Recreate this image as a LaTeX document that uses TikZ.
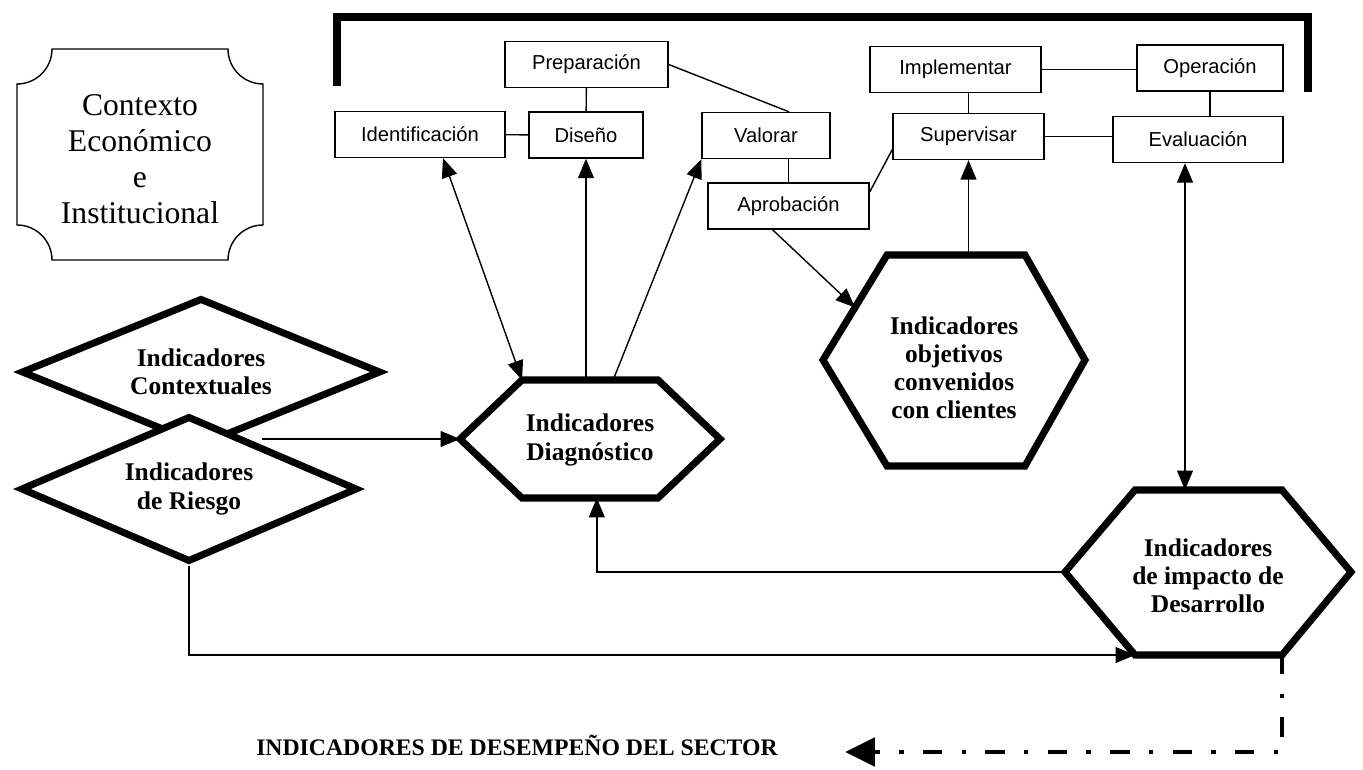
\documentclass[tikz,border=0pt]{standalone}
\usepackage{fontspec}
\setmainfont{Liberation Serif}
\setsansfont{Liberation Sans}
\usepackage{tikz}
\usetikzlibrary{arrows.meta, shapes.geometric, positioning, calc}

\begin{document}
\begin{tikzpicture}[x=0.02cm, y=-0.02cm,
    heavyline/.style={line width=4pt, line join=miter},
    conn/.style={line width=0.8pt},
    arr/.style={conn, -{Triangle[length=11pt, width=9pt]}},
    darr/.style={conn, {Triangle[length=11pt, width=9pt]}-{Triangle[length=11pt, width=9pt]}},
    stage/.style={draw, line width=0.8pt, minimum height=0.92cm, inner sep=0pt,
        font=\sffamily\fontsize{11.5}{13}\selectfont},
    ind/.style={align=center, font=\bfseries\fontsize{14.5}{16}\selectfont},
    rombo/.style={diamond, draw, heavyline, fill=white, inner sep=0pt, aspect=2.4, ind}]
    \useasboundingbox (0,0) rectangle (1363,770);

    % --- Contexto ---
    \draw[line width=0.8pt] (52,49) -- (228,49) arc[start angle=180, end angle=270, radius=0.7cm]
        -- (263,225) arc[start angle=90, end angle=180, radius=0.7cm]
        -- (52,260) arc[start angle=0, end angle=90, radius=0.7cm]
        -- (17,84) arc[start angle=270, end angle=360, radius=0.7cm] -- cycle;
    \node[align=center, font=\fontsize{18}{20.5}\selectfont] (ctx) at (140,159)
        {Contexto\\Económico\\e\\Institucional};

    % --- ciclo del proyecto ---
    \draw[heavyline] (337,86) -- (337,17) -- (1308,17) -- (1308,92);
    \node[stage, minimum width=3.4cm]  (iden) at (420,134.5) {Identificación};
    \node[stage, minimum width=2.28cm] (dise) at (586,135)   {Diseño};
    \node[stage, minimum width=3.26cm] (prep) at (586.5,64.5) {Preparación};
    \node[stage, minimum width=2.56cm] (valo) at (766,135.5) {Valorar};
    \node[stage, minimum width=3.22cm] (apro) at (788.5,206) {Aprobación};
    \node[stage, minimum width=3.42cm] (impl) at (955.5,69.5) {Implementar};
    \node[stage, minimum width=3.02cm] (supe) at (968.5,136.5) {Supervisar};
    \node[stage, minimum width=2.92cm] (oper) at (1210,68)   {Operación};
    \node[stage, minimum width=3.4cm]  (eval) at (1198,139.5) {Evaluación};

    \draw[conn] (iden) -- (dise);
    \draw[conn] (prep) -- (dise);
    \draw[conn] (prep.east) -- ($(valo.north)+(23,0)$);
    \draw[conn] (valo.south -| apro.north) -- (apro.north);
    \draw[conn] ($(apro.east)+(0,-14)$) -- ($(supe.west)+(0,13)$);
    \draw[conn] (impl.south -| supe.north) -- (supe.north);
    \draw[conn] (impl.east) -- (impl.east -| oper.west);
    \draw[conn] (oper.south) -- (oper.south |- eval.north);
    \draw[conn] (supe.east) -- (supe.east -| eval.west);

    % --- indicadores ---
    \node[rombo, minimum width=7.2cm, minimum height=2.96cm] (cont) at (201,372) {Indicadores\\Contextuales};
    \node[rombo, minimum width=6.74cm, minimum height=2.92cm] (ries) at (189,489) {Indicadores\\de Riesgo};

    \draw[heavyline] (460,439) coordinate (diag-w) -- (522,380) coordinate (diag-nw)
        -- (658,380) coordinate (diag-ne) -- (720,439) -- (658,498) coordinate (diag-se)
        -- (522,498) coordinate (diag-sw) -- cycle;
    \node[ind] (diag) at (590,440) {Indicadores\\Diagnóstico};

    \draw[heavyline] (823,360) coordinate (obj-w) -- (887,255) coordinate (obj-nw)
        -- (1025,255) -- (1085,360) -- (1025,466) -- (887,466) -- cycle;
    \node[ind] (obj) at (954,368) {Indicadores\\objetivos\\convenidos\\con clientes};

    \draw[heavyline] (1065,572) coordinate (imp-w) -- (1135,490) coordinate (imp-nw)
        -- (1282,490) -- (1351,572) -- (1282,655) coordinate (imp-se)
        -- (1135,655) coordinate (imp-sw) -- cycle;
    \node[ind] (imp) at (1208,576) {Indicadores\\de impacto de\\Desarrollo};

    % --- flechas ---
    \draw[darr] ($(iden.south)+(23,0)$) -- (diag-nw);
    \draw[arr] (dise.south |- diag-nw) -- (dise.south);
    \draw[arr] ($(diag-nw)!0.67!(diag-ne)$) -- (valo.south west);
    \draw[arr] ($(ries.north east |- diag-w)+(-13,0)$) -- (diag-w);
    \draw[arr] (imp-w) -| ($(diag-sw)!0.55!(diag-se)$);
    \draw[arr] (ries.south) |- (imp-sw);
    \draw[arr] ($(apro.south)+(-16,0)$) -- ($(obj-nw)!0.5!(obj-w)$);
    \draw[arr] (supe.south |- obj-nw) -- (supe.south);
    \coordinate (evb) at ($(eval.south)+(-13,0)$);
    \draw[darr] (evb) -- (evb |- imp-nw);

    % --- salida ---
    \node[font=\bfseries\fontsize{13.5}{15}\selectfont, inner sep=0pt] (sect) at (517,745)
        {INDICADORES DE DESEMPEÑO DEL SECTOR};
    \coordinate (outtip) at (845,752);
    \draw[line width=2.8pt, dash pattern=on 11pt off 11pt on 2.5pt off 11pt,
        -{Triangle[length=17pt, width=16pt]}] (imp-se) |- (outtip);
\end{tikzpicture}
\end{document}
